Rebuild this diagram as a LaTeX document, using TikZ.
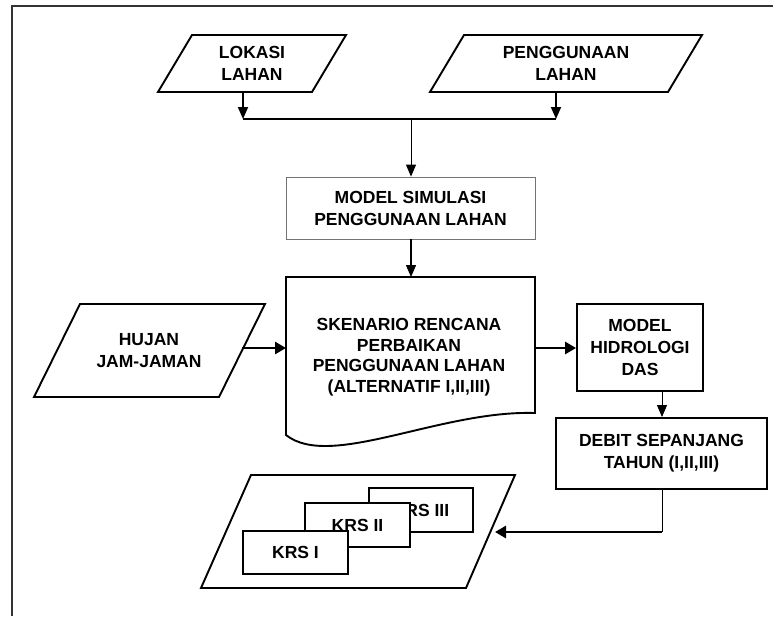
\documentclass[tikz,border=0pt]{standalone}
\usepackage{fontspec}
\setmainfont{Liberation Sans}
\usetikzlibrary{arrows.meta}
\begin{document}
\begin{tikzpicture}[x=1pt,y=-1pt,
  lbl/.style={font=\bfseries\fontsize{17.5}{22}\selectfont, align=center, inner sep=0pt},
  shp/.style={draw=black, line width=1.9pt, fill=white, line join=miter},
  boxn/.style={shp, rectangle, lbl},
  krs/.style={draw=black, line width=1.6pt, fill=white, rectangle, lbl},
  thinflow/.style={line width=1.0pt, -{Triangle[length=12pt,width=10pt]}},
  midflow/.style={line width=1.8pt, -{Triangle[length=12pt,width=10pt]}},
  thickflow/.style={line width=2.8pt, -{Triangle[length=11pt,width=12pt]}}]
\useasboundingbox (0,0) rectangle (773,616);

% outer frame (left and top edges)
\draw[line width=1.6pt, draw=black!80] (12,616) -- (12,6) -- (773,6);

% input parallelograms
\draw[shp] (192,35) -- (346,35) -- (312,92) -- (158,92) -- cycle;
\node[lbl] (lokasi) at (252,63.5) {LOKASI\\LAHAN};
\draw[shp] (464,35) -- (702,35) -- (668,92) -- (430,92) -- cycle;
\node[lbl] (guna) at (566,63.5) {PENGGUNAAN\\LAHAN};

\coordinate (lokOut) at (243,92);
\coordinate (gunOut) at (556,92);
\coordinate (barL) at (243,119);
\coordinate (barR) at (556,119);
\coordinate (barM) at (411,119);

% simulation model box
\node[lbl, draw=black!55, line width=0.8pt, minimum width=249pt, minimum height=62pt]
  (msim) at (410.5,208) {MODEL SIMULASI\\PENGGUNAAN LAHAN};

\draw[midflow] (lokOut) -- (barL);
\draw[midflow] (gunOut) -- (barR);
\draw[line width=1.8pt] (barL) -- (barR);
\draw[thinflow] (barM) -- (barM |- msim.north);

% scenario document shape
\draw[shp] (286,277) -- (535,277) -- (535,413)
  .. controls (440,410) and (330,470) .. (286,435) -- cycle;
\coordinate (docTop) at (411,277);
\node[lbl, font=\bfseries\fontsize{17.5}{20.5}\selectfont] (skn) at (409,357)
  {SKENARIO RENCANA\\PERBAIKAN\\PENGGUNAAN LAHAN\\(ALTERNATIF I,II,III)};
\draw[thinflow, line width=1.3pt] (msim.south -| docTop) -- (docTop);

% rainfall input
\draw[shp] (80,304) -- (265,304) -- (219,397) -- (34,397) -- cycle;
\node[lbl] (hujan) at (149,351) {HUJAN\\JAM-JAMAN};
\coordinate (hujOut) at (242,348);
\coordinate (docL) at (286,348);
\coordinate (docR) at (535,348);
\draw[thickflow] (hujOut) -- (docL);

% hydrology model
\node[boxn, minimum width=126pt, minimum height=87pt] (mh) at (640,347.5)
  {MODEL\\HIDROLOGI\\DAS};
\draw[thickflow] (docR) -- (docR -| mh.west);

% discharge
\node[boxn, minimum width=211pt, minimum height=71pt] (debit) at (661.5,453.5)
  {DEBIT SEPANJANG\\TAHUN (I,II,III)};
\coordinate (mhOut) at (662,391);
\draw[thinflow] (mhOut) -- (mhOut |- debit.north);

% output parallelogram with KRS sheets
\draw[shp] (251,475) -- (515,475) -- (466,588) -- (201,588) -- cycle;
\node[krs, minimum width=104pt, minimum height=44pt] (krs3) at (421,510) {KRS III};
\node[krs, minimum width=105pt, minimum height=44pt] (krs2) at (357.5,525) {KRS II};
\node[krs, minimum width=105pt, minimum height=43pt] (krs1) at (295.5,552.5) {KRS I};

\coordinate (turn) at (662,532);
\coordinate (outIn) at (495,532);
\draw[line width=1.0pt] (debit.south -| turn) -- (turn);
\draw[thickflow] (turn) -- (outIn);
\end{tikzpicture}
\end{document}
